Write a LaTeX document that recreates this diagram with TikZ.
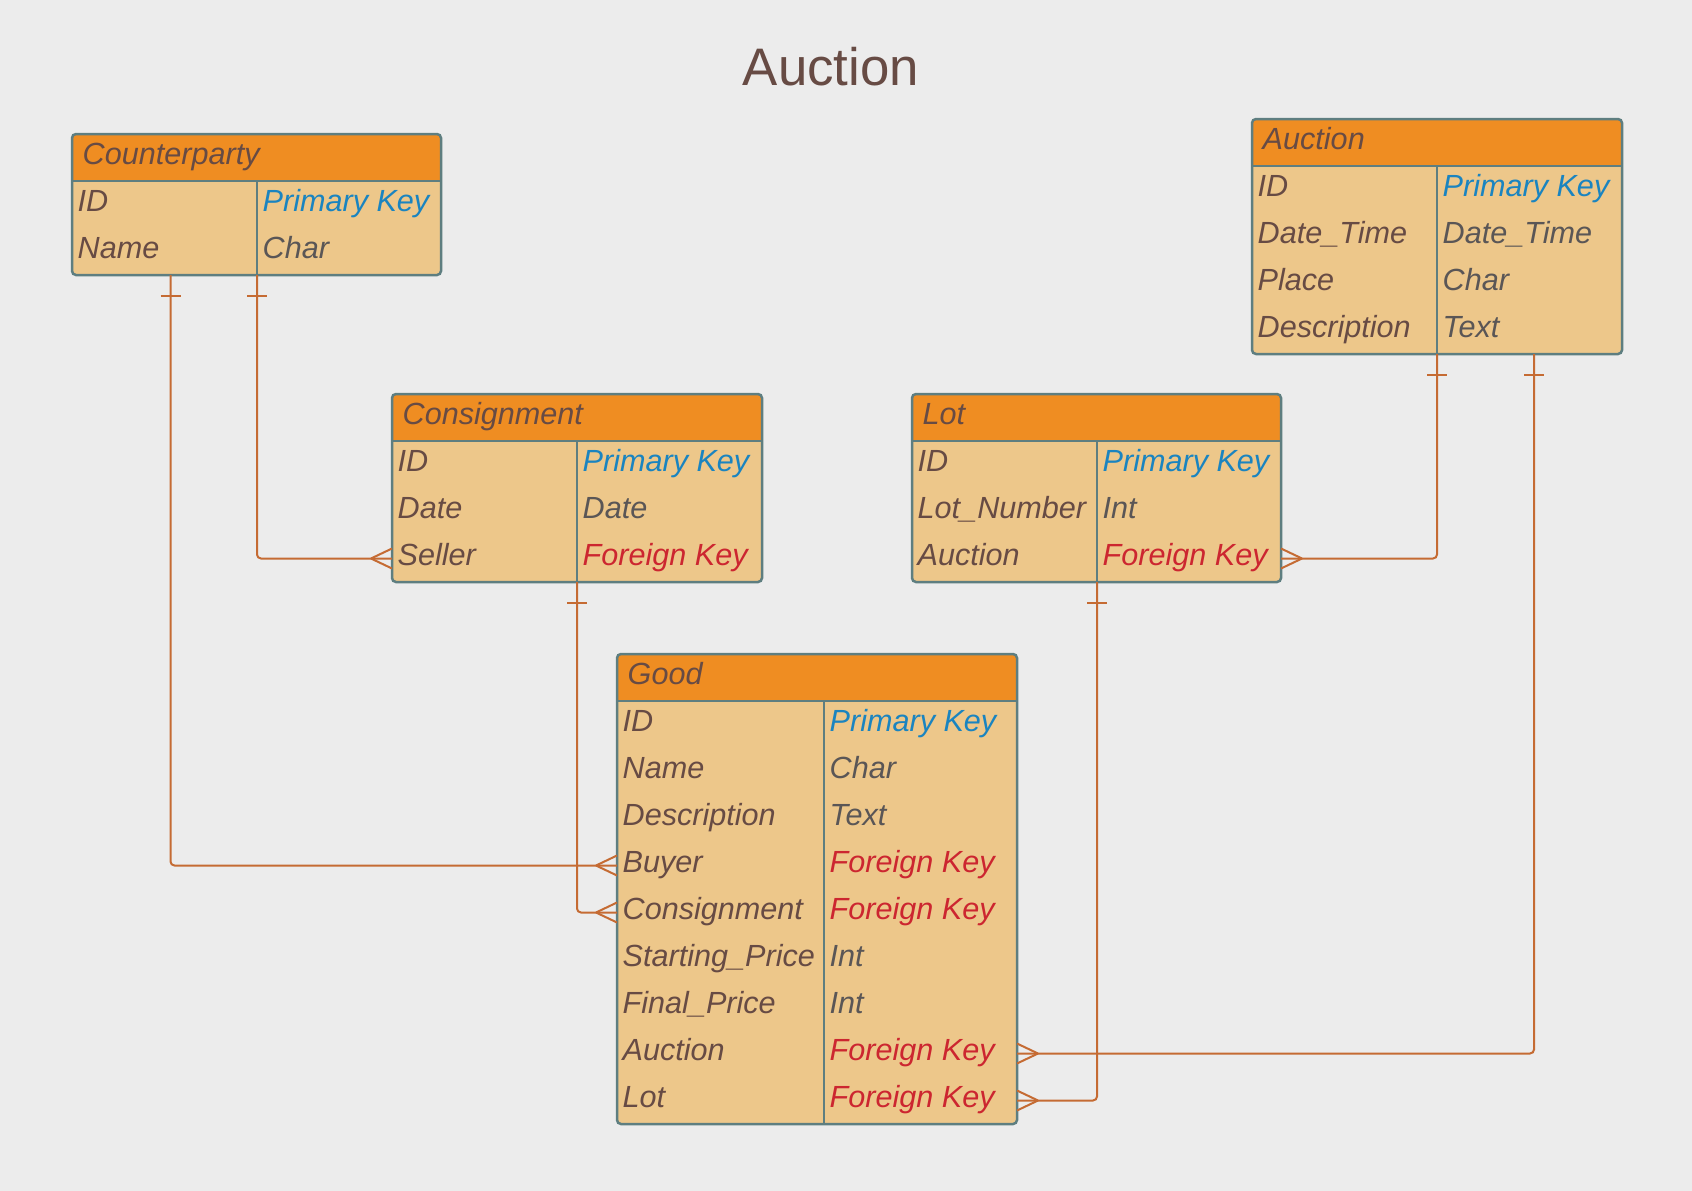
\documentclass[tikz,border=0pt]{standalone}
\usepackage{fontspec}
\setmainfont{Liberation Sans}
\definecolor{bg}{HTML}{ECECEC}
\definecolor{hdr}{HTML}{EF8D22}
\definecolor{bodyc}{HTML}{EDC78A}
\definecolor{bord}{HTML}{5E7E80}
\definecolor{fld}{HTML}{674B44}
\definecolor{typ}{HTML}{5A5656}
\definecolor{pk}{HTML}{1A84C0}
\definecolor{fk}{HTML}{CC2630}
\definecolor{connc}{HTML}{C56B33}
\tikzset{
  fieldtxt/.style={font=\fontsize{30.6}{30.6}\selectfont\itshape, inner sep=0pt, anchor=base west},
  connline/.style={draw=connc, line width=2pt, rounded corners=4pt},
  tick/.style={draw=connc, line width=2pt},
  borderln/.style={draw=bord, line width=2.5pt}
}
% #1 name, #2 x, #3 y, #4 width, #5 divider offset, #6 rows, #7 title, #8 row list
\newcommand{\ertable}[8]{%
  \pgfmathsetmacro{\tbh}{47*(#6+1)}
  \pgfmathsetmacro{\tbb}{#3+\tbh}
  \pgfmathsetmacro{\tbcx}{#2+#4/2}
  \pgfmathsetmacro{\tbcy}{#3+\tbh/2}
  \fill[bodyc, rounded corners=4pt] (#2,#3) rectangle (#2+#4,\tbb);
  \fill[hdr, rounded corners=4pt] (#2,#3) rectangle (#2+#4,#3+56);
  \fill[bodyc] (#2,#3+47) rectangle (#2+#4,#3+58);
  \node[borderln, rounded corners=4pt, inner sep=0pt, outer sep=0pt,
        minimum width=#4pt, minimum height=\tbh pt] (#1) at (\tbcx,\tbcy) {};
  \draw[borderln] (#2,#3+47) -- (#2+#4,#3+47);
  \draw[borderln] (#2+#5,#3+47) -- (#2+#5,\tbb);
  \coordinate (#1-div) at (#2+#5,\tbb);
  \node[fieldtxt, text=fld] (#1-title) at (#2+10.5,#3+30) {#7};
  \foreach \f/\t/\c [count=\i] in {#8} {
    \pgfmathsetmacro{\ry}{#3+47*(\i+0.5)}
    \node[fieldtxt, text=fld] (#1-f\i) at (#2+5.5,\ry+6.5) {\f};
    \node[fieldtxt, text=\c] (#1-t\i) at (#2+#5+5.5,\ry+6.5) {\t};
    \coordinate (#1-l\i) at (#2,\ry);
    \coordinate (#1-r\i) at (#2+#4,\ry);
  }
}
\newcommand{\crowL}[1]{%
  \draw[tick] ([xshift=-21pt]#1) -- ([yshift=10pt]#1);
  \draw[tick] ([xshift=-21pt]#1) -- ([yshift=-10pt]#1);}
\newcommand{\crowR}[1]{%
  \draw[tick] ([xshift=21pt]#1) -- ([yshift=10pt]#1);
  \draw[tick] ([xshift=21pt]#1) -- ([yshift=-10pt]#1);}
\newcommand{\barD}[1]{%
  \draw[tick] ([xshift=-10pt,yshift=-21pt]#1) -- ([xshift=10pt,yshift=-21pt]#1);}
\begin{document}
\begin{tikzpicture}[x=1pt,y=-1pt]
\fill[bg] (0,0) rectangle (1692,1191);
\useasboundingbox (0,0) rectangle (1692,1191);
\node[font=\fontsize{52.8}{52.8}\selectfont, text=fld, anchor=base, inner sep=0pt] (title) at (831,85) {Auction};

\ertable{cp}{72}{134}{369}{185}{2}{Counterparty}{ID/Primary Key/pk, Name/Char/typ}
\ertable{cs}{392}{394}{370}{185}{3}{Consignment}{ID/Primary Key/pk, Date/Date/typ, Seller/Foreign Key/fk}
\ertable{lot}{912}{394}{369}{185}{3}{Lot}{ID/Primary Key/pk, Lot\_Number/Int/typ, Auction/Foreign Key/fk}
\ertable{au}{1252}{119}{370}{185}{4}{Auction}{ID/Primary Key/pk, Date\_Time/Date\_Time/typ, Place/Char/typ, Description/Text/typ}
\ertable{gd}{617}{654}{400}{207}{9}{Good}{ID/Primary Key/pk, Name/Char/typ, Description/Text/typ, Buyer/Foreign Key/fk, Consignment/Foreign Key/fk, Starting\_Price/Int/typ, Final\_Price/Int/typ, Auction/Foreign Key/fk, Lot/Foreign Key/fk}

\coordinate (cp-b2) at ([xshift=98.5pt]cp.south west);
\coordinate (au-b2) at ([xshift=282pt]au.south west);

% Counterparty -> Consignment.Seller
\draw[connline] (cp-div) |- (cs-l3);
\barD{cp-div}\crowL{cs-l3}
% Counterparty -> Good.Buyer
\draw[connline] (cp-b2) |- (gd-l4);
\barD{cp-b2}\crowL{gd-l4}
% Consignment -> Good.Consignment
\draw[connline] (cs-div) |- (gd-l5);
\barD{cs-div}\crowL{gd-l5}
% Lot -> Good.Lot
\draw[connline] (lot-div) |- (gd-r9);
\barD{lot-div}\crowR{gd-r9}
% Auction -> Lot.Auction
\draw[connline] (au-div) |- (lot-r3);
\barD{au-div}\crowR{lot-r3}
% Auction -> Good.Auction
\draw[connline] (au-b2) |- (gd-r8);
\barD{au-b2}\crowR{gd-r8}
\end{tikzpicture}
\end{document}
